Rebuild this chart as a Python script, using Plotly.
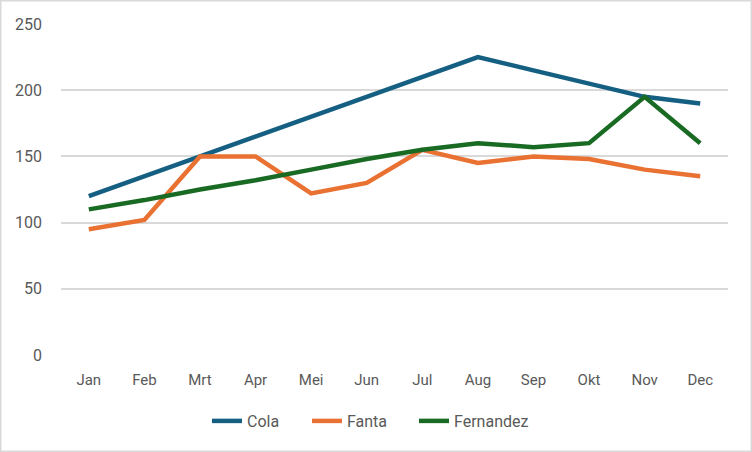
import plotly.graph_objects as go

months = ["Jan", "Feb", "Mrt", "Apr", "Mei", "Jun", "Jul", "Aug", "Sep", "Okt", "Nov", "Dec"]
cola = [120, 135, 150, 165, 180, 195, 210, 225, 215, 205, 195, 190]
fanta = [95, 102, 150, 150, 122, 130, 155, 145, 150, 148, 140, 135]
fernandez = [110, 117, 125, 132, 140, 148, 155, 160, 157, 160, 195, 160]
y_ticks = [0, 50, 100, 150, 200, 250]

series = [("Cola", cola, "#156082"), ("Fanta", fanta, "#E97132"), ("Fernandez", fernandez, "#196B24")]

W, H = 752, 452
L, R, T, B = 61, 24, 24, 97
pw, ph = W - L - R, H - T - B

legend_names = ["legend", "legend2", "legend3"]
legend_px = [215, 315, 422]

fig = go.Figure()
for (name, vals, col), lg in zip(series, legend_names):
    fig.add_trace(go.Scatter(x=months, y=vals, name=name, mode="lines", legend=lg,
                             line=dict(color=col, width=4.5, shape="linear")))

legend_common = dict(orientation="h", xanchor="left", y=(ph - (421 - T)) / ph, yanchor="middle",
                     font=dict(size=16, color="#595959"), itemwidth=30, bgcolor="rgba(0,0,0,0)")

layout_legends = {}
for lg, px in zip(legend_names, legend_px):
    layout_legends[lg] = dict(legend_common, x=(px - 8 - L) / pw)

fig.update_layout(
    width=W, height=H,
    margin=dict(l=L, r=R, t=T, b=B, autoexpand=False),
    paper_bgcolor="white", plot_bgcolor="white",
    font=dict(family="Roboto, Liberation Sans, sans-serif", size=15, color="#595959"),
    showlegend=True,
    xaxis=dict(type="category", range=[-0.5, 11.5], showgrid=False, showline=False, zeroline=False,
               ticks="", ticklabelstandoff=14, tickfont=dict(size=15, color="#595959")),
    yaxis=dict(range=[0, 250], tickvals=y_ticks, showgrid=True, gridcolor="#D9D9D9", gridwidth=1.5,
               zeroline=False, showline=False, ticks="", ticklabelstandoff=18,
               tickfont=dict(size=16, color="#595959")),
    shapes=[dict(type="rect", xref="paper", yref="paper",
                 x0=(0.75 - L) / pw, x1=(W - 0.75 - L) / pw,
                 y0=(ph - (H - 0.75 - T)) / ph, y1=(ph - (0.75 - T)) / ph,
                 line=dict(color="#D9D9D9", width=1.5), fillcolor="rgba(0,0,0,0)", layer="below")],
    **layout_legends,
)

fig.write_html("out.html", config={"displayModeBar": False},
               post_script="document.body.style.margin='0px';document.body.style.overflow='hidden';")
